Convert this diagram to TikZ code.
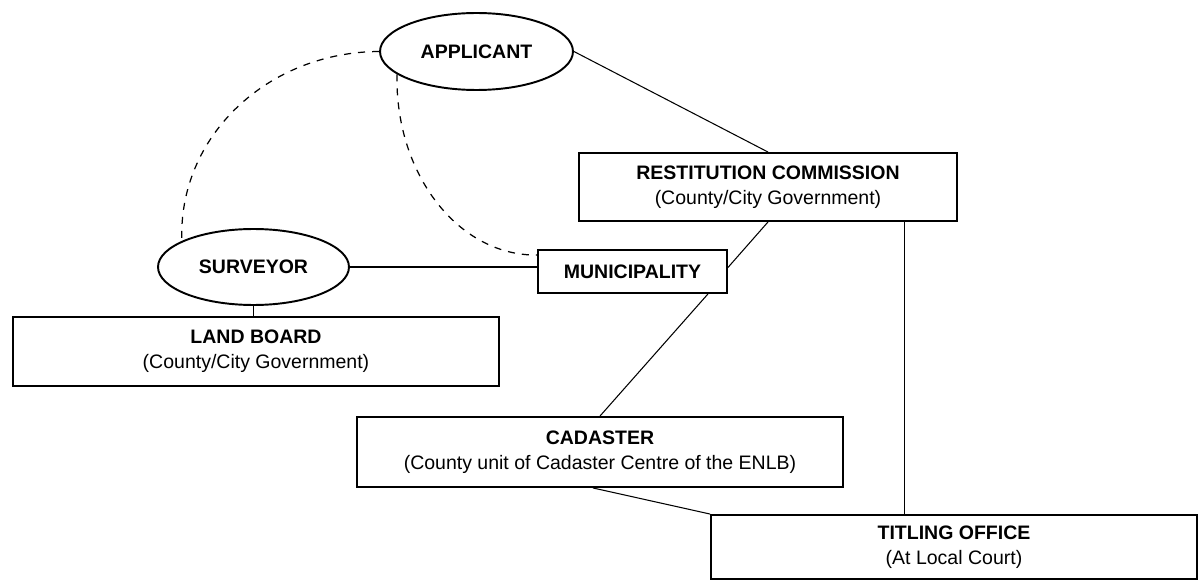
\documentclass[tikz,border=0pt]{standalone}
\usepackage{fontspec}
\setmainfont{Liberation Sans}
\usetikzlibrary{shapes.geometric,calc}
\tikzset{
  orgbox/.style={draw, line width=1.1pt, rectangle, inner sep=0pt, align=center,
    font=\fontsize{11.1}{14}\selectfont},
  orgell/.style={draw, line width=1.1pt, ellipse, inner sep=0pt, align=center,
    font=\fontsize{11.1}{14}\selectfont\bfseries},
  link/.style={line width=0.6pt},
  dlink/.style={line width=0.7pt, dash pattern=on 4pt off 4pt}
}
\begin{document}
\begin{tikzpicture}[x=0.02cm, y=-0.02cm]
\useasboundingbox (0,0) rectangle (1200,584);
\node[orgell, minimum width=3.86cm, minimum height=1.54cm] (app) at (476.5,51.5) {APPLICANT};
\node[orgell, minimum width=3.82cm, minimum height=1.52cm] (surv) at (253.5,267) {SURVEYOR};
\node[orgbox, minimum width=7.56cm, minimum height=1.36cm] (rest) at (768,187)
  {\textbf{RESTITUTION COMMISSION}\\(County/City Government)};
\node[orgbox, minimum width=3.78cm, minimum height=0.86cm, font=\fontsize{11.1}{14}\selectfont\bfseries] (mun) at (632.5,271.5) {MUNICIPALITY};
\node[orgbox, minimum width=9.72cm, minimum height=1.38cm] (land) at (256,351.5)
  {\textbf{LAND BOARD}\\(County/City Government)};
\node[orgbox, minimum width=9.72cm, minimum height=1.4cm] (cad) at (600,452)
  {\textbf{CADASTER}\\(County unit of Cadaster Centre of the ENLB)};
\node[orgbox, minimum width=9.72cm, minimum height=1.28cm] (tit) at (954,547)
  {\textbf{TITLING OFFICE}\\(At Local Court)};
% solid connectors
\draw[link] (app.east) -- (rest.north);
\draw[link] (surv.east) -- (surv.east -| mun.west);
\draw[link] (surv.south) -- (surv.south |- land.north);
\draw[link] (rest.south) -- ($(mun.east)+(0,-4)$);
\draw[link] ($(mun.south east)+(-20,0)$) -- (cad.north);
\draw[link] ($(rest.south east)+(-53,0)$) coordinate (rs) -- (rs |- tit.north);
\draw[link] ($(cad.south)+(-7,0)$) -- (tit.north west);
% dashed connectors
\draw[dlink] (app.west) .. controls (268,52) and (178,136) .. (surv.160);
\draw[dlink] (app.196) .. controls (395,175) and (459,256) .. ($(mun.north west)+(0,6)$);
\end{tikzpicture}
\end{document}
